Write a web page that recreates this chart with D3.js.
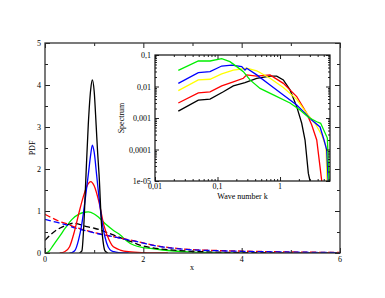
<!DOCTYPE html>
<html>
<head>
<meta charset="utf-8">
<script src="https://cdn.jsdelivr.net/npm/d3@7"></script>
<style>
  body { margin: 0; background: #fff; }
  text { font-family: "Liberation Serif", "DejaVu Serif", serif; font-size: 8px; fill: #000; }
</style>
</head>
<body>
<svg id="chart" width="385" height="298"></svg>
<script>
// ---- main panel: PDF curves (x, y pairs)
const blackSolid = [[0.7,0],[0.75,0.05],[0.79,0.67],[0.834,1.86],[0.88,3.05],[0.93,3.9],[0.963,4.12],[1.0,3.85],[1.04,3.05],[1.07,2.4],[1.1,1.86],[1.15,0.67],[1.19,0.2],[1.22,0.05],[1.28,0]];
const blueSolid = [[0.5,0],[0.55,0.01],[0.61,0.06],[0.68,0.3],[0.746,0.67],[0.82,1.3],[0.88,1.86],[0.93,2.35],[0.963,2.57],[1.0,2.4],[1.05,1.86],[1.1,1.3],[1.17,0.67],[1.25,0.25],[1.32,0.08],[1.4,0.03],[1.5,0.01],[1.7,0]];
const redSolid = [[0.3,0],[0.4,0.03],[0.5,0.15],[0.6,0.52],[0.7,1.0],[0.8,1.42],[0.88,1.65],[0.93,1.7],[1.0,1.6],[1.1,1.2],[1.2,0.65],[1.3,0.32],[1.36,0.19],[1.45,0.11],[1.53,0.07],[1.7,0.03],[2.0,0.01],[2.5,0]];
const greenSolid = [[0,0],[0.07,0.03],[0.17,0.19],[0.3,0.4],[0.41,0.59],[0.55,0.8],[0.7,0.93],[0.8,0.97],[0.88,0.98],[1.0,0.93],[1.1,0.84],[1.25,0.67],[1.4,0.53],[1.53,0.43],[1.65,0.3],[1.8,0.19],[2.0,0.13],[2.14,0.11],[2.5,0.06],[3,0.02],[3.5,0.01],[4,0]];
const blackDashed = [[0,0.3],[0.1,0.42],[0.2,0.52],[0.3,0.59],[0.45,0.67],[0.58,0.71],[0.7,0.68],[0.85,0.63],[1.0,0.59],[1.12,0.55],[1.25,0.49],[1.39,0.43],[1.52,0.37],[1.66,0.31],[1.8,0.25],[1.93,0.19],[2.2,0.12],[2.5,0.08],[3,0.04],[3.5,0.02],[4,0.01],[5,0.004],[6,0.002]];
const redDashed = [[0,0.92],[0.15,0.83],[0.3,0.75],[0.45,0.69],[0.6,0.62],[0.8,0.55],[1.0,0.49],[1.25,0.42],[1.6,0.34],[1.93,0.26],[2.27,0.17],[2.6,0.12],[3,0.08],[3.5,0.06],[4,0.045],[5,0.025],[6,0.012]];
const blueDashed = [[0,0.8],[0.2,0.74],[0.4,0.68],[0.6,0.6],[0.8,0.54],[1.0,0.48],[1.25,0.42],[1.6,0.335],[1.93,0.255],[2.27,0.165],[2.6,0.115],[3,0.075],[3.5,0.055],[4,0.04],[5,0.022],[6,0.01]];

// ---- inset: spectra (k, S pairs)
const specGreen = [[0.0236,0.0327],[0.0493,0.0646],[0.0759,0.0646],[0.1167,0.0764],[0.158,0.0617],[0.203,0.0427],[0.259,0.0295],[0.331,0.0162],[0.479,0.0087],[0.782,0.0054],[1.445,0.003],[2.089,0.0018],[2.838,0.00105],[3.864,0.00076],[4.467,0.00068],[5.715,0.00023],[6.081,0.00001]];
const specBlue = [[0.0236,0.0126],[0.0493,0.0275],[0.0759,0.0295],[0.1167,0.0447],[0.169,0.0479],[0.244,0.0427],[0.275,0.0331],[0.293,0.038],[0.424,0.0234],[0.692,0.0112],[1.13,0.0054],[1.849,0.0026],[2.673,0.00126],[3.214,0.00087],[4.365,0.00052],[5.058,0.0002],[5.585,0.000095],[5.888,0.00001]];
const specYellow = [[0.0236,0.0074],[0.0493,0.0162],[0.0759,0.017],[0.1167,0.0251],[0.179,0.0331],[0.293,0.038],[0.424,0.0316],[0.692,0.0182],[1.13,0.0093],[1.849,0.0039],[2.673,0.0014],[3.63,0.00068],[4.645,0.00029],[5.445,0.000123],[5.649,0.00001]];
const specRed = [[0.0236,0.003],[0.0493,0.0063],[0.0759,0.0068],[0.1167,0.0105],[0.179,0.0141],[0.259,0.0182],[0.293,0.0234],[0.424,0.0214],[0.692,0.0234],[1.13,0.0126],[1.849,0.0048],[2.673,0.0014],[3.214,0.0006],[3.864,0.0002],[4.365,0.000028],[4.645,0.00001]];
const specBlack = [[0.0236,0.00166],[0.0493,0.0037],[0.0759,0.004],[0.124,0.0068],[0.179,0.0105],[0.275,0.0132],[0.424,0.0182],[0.692,0.0214],[0.885,0.0214],[1.13,0.0162],[1.445,0.0078],[1.849,0.0023],[2.223,0.00068],[2.512,0.0002],[2.838,0.0000174],[3.02,0.00001]];

// ---- tick labels
const xTicks = [0, 2, 4, 6];
const yTicks = [0, 1, 2, 3, 4, 5];
const kTicks = [0.01, 0.1, 1];
const kTickLabels = ["0,01", "0,1", "1"];
const sTicks = [1e-5, 1e-4, 1e-3, 1e-2, 1e-1];
const sTickLabels = ["1e-05", "0,0001", "0,001", "0,01", "0,1"];

const svg = d3.select("#chart");

// scales
const x = d3.scaleLinear().domain([0, 6]).range([45, 340]);
const y = d3.scaleLinear().domain([0, 5]).range([253, 43]);
const kx = d3.scaleLog().domain([0.01, 6.3]).range([155, 330]);
const sy = d3.scaleLog().domain([1e-5, 0.1]).range([181, 55]);

const defs = svg.append("defs");
defs.append("clipPath").attr("id", "clipMain")
  .append("rect").attr("x", 45).attr("y", 43).attr("width", 295).attr("height", 210);
defs.append("clipPath").attr("id", "clipInset")
  .append("rect").attr("x", 155).attr("y", 55).attr("width", 175).attr("height", 126);

// main curves
const line = d3.line().x(d => x(d[0])).y(d => y(d[1])).curve(d3.curveMonotoneX);
const mainG = svg.append("g").attr("clip-path", "url(#clipMain)");
const mainSeries = [
  { data: greenSolid, color: "#00ee00", dash: null },
  { data: blackDashed, color: "#000", dash: "6,3" },
  { data: redDashed, color: "#ff0000", dash: "6,3" },
  { data: blueDashed, color: "#0000ff", dash: "6,3" },
  { data: redSolid, color: "#ff0000", dash: null },
  { data: blueSolid, color: "#0000ff", dash: null },
  { data: blackSolid, color: "#000", dash: null },
];
mainSeries.forEach(s => {
  mainG.append("path")
    .attr("d", line(s.data))
    .attr("fill", "none")
    .attr("stroke", s.color)
    .attr("stroke-width", 1.3)
    .attr("stroke-dasharray", s.dash);
});

// main axes (ticks point inward on all four sides)
function linTicks(axis, scale, major, minor, pos) {
  svg.append("g").attr("transform", pos)
    .call(axis(scale).tickValues(major).tickSizeInner(-5).tickSizeOuter(0).tickFormat(""))
    .call(g => g.select(".domain").remove());
  svg.append("g").attr("transform", pos)
    .call(axis(scale).tickValues(minor).tickSizeInner(-3).tickSizeOuter(0).tickFormat(""))
    .call(g => g.select(".domain").remove());
}
const xMinor = [1, 3, 5];
const yMinor = [0.5, 1.5, 2.5, 3.5, 4.5];
linTicks(d3.axisBottom, x, xTicks, xMinor, "translate(0,253)");
linTicks(d3.axisTop, x, xTicks, xMinor, "translate(0,43)");
linTicks(d3.axisLeft, y, yTicks, yMinor, "translate(45,0)");
linTicks(d3.axisRight, y, yTicks, yMinor, "translate(340,0)");
svg.selectAll(".tick line").attr("stroke", "#333");

svg.append("rect").attr("x", 45).attr("y", 43).attr("width", 295).attr("height", 210)
  .attr("fill", "none").attr("stroke", "#333").attr("stroke-width", 1.3);

svg.append("g").selectAll("text").data(xTicks).join("text")
  .attr("x", d => x(d)).attr("y", 262).attr("text-anchor", "middle").text(d => d);
svg.append("g").selectAll("text").data(yTicks).join("text")
  .attr("x", 41).attr("y", d => y(d) + 3).attr("text-anchor", "end").text(d => d);
svg.append("text").attr("x", 192).attr("y", 270).attr("text-anchor", "middle").text("x");
svg.append("text").attr("transform", "translate(35,148) rotate(-90)")
  .attr("text-anchor", "middle").text("PDF");

// inset
svg.append("rect").attr("x", 155).attr("y", 55).attr("width", 175).attr("height", 126).attr("fill", "#fff");
const sline = d3.line().x(d => kx(d[0])).y(d => sy(d[1]));
const insetG = svg.append("g").attr("clip-path", "url(#clipInset)");
const insetSeries = [
  { data: specBlack, color: "#000" },
  { data: specRed, color: "#ff0000" },
  { data: specYellow, color: "#ffff00" },
  { data: specBlue, color: "#0000ff" },
  { data: specGreen, color: "#00ee00" },
];
insetSeries.forEach(s => {
  insetG.append("path")
    .attr("d", sline(s.data))
    .attr("fill", "none")
    .attr("stroke", s.color)
    .attr("stroke-width", 1.3);
});

// log minor ticks
const kMinor = [];
[0.01, 0.1, 1].forEach(b => { for (let m = 2; m <= 9; m++) if (b * m <= 6.3) kMinor.push(b * m); });
const sMinor = [];
[1e-5, 1e-4, 1e-3, 1e-2].forEach(b => { for (let m = 2; m <= 9; m++) sMinor.push(b * m); });

function logTicks(axis, scale, major, minor, pos) {
  svg.append("g").attr("transform", pos)
    .call(axis(scale).tickValues(major).tickSizeInner(-4).tickSizeOuter(0).tickFormat(""))
    .call(g => g.select(".domain").remove());
  svg.append("g").attr("transform", pos)
    .call(axis(scale).tickValues(minor).tickSizeInner(-2).tickSizeOuter(0).tickFormat(""))
    .call(g => g.select(".domain").remove());
}
logTicks(d3.axisBottom, kx, kTicks, kMinor, "translate(0,181)");
logTicks(d3.axisTop, kx, kTicks, kMinor, "translate(0,55)");
logTicks(d3.axisLeft, sy, sTicks, sMinor, "translate(155,0)");
logTicks(d3.axisRight, sy, sTicks, sMinor, "translate(330,0)");
svg.selectAll(".tick line").attr("stroke", "#222");

svg.append("rect").attr("x", 155).attr("y", 55).attr("width", 175).attr("height", 126)
  .attr("fill", "none").attr("stroke", "#111").attr("stroke-width", 1.2);

svg.append("g").selectAll("text").data(kTicks).join("text")
  .attr("x", d => kx(d)).attr("y", 189).attr("text-anchor", "middle")
  .text((d, i) => kTickLabels[i]);
svg.append("g").selectAll("text").data(sTicks).join("text")
  .attr("x", 151).attr("y", d => sy(d) + 3).attr("text-anchor", "end")
  .text((d, i) => sTickLabels[i]);
svg.append("text").attr("x", 242.5).attr("y", 199).attr("text-anchor", "middle").text("Wave number k");
svg.append("text").attr("transform", "translate(124,118) rotate(-90)")
  .attr("text-anchor", "middle").text("Spectrum");
</script>
</body>
</html>
